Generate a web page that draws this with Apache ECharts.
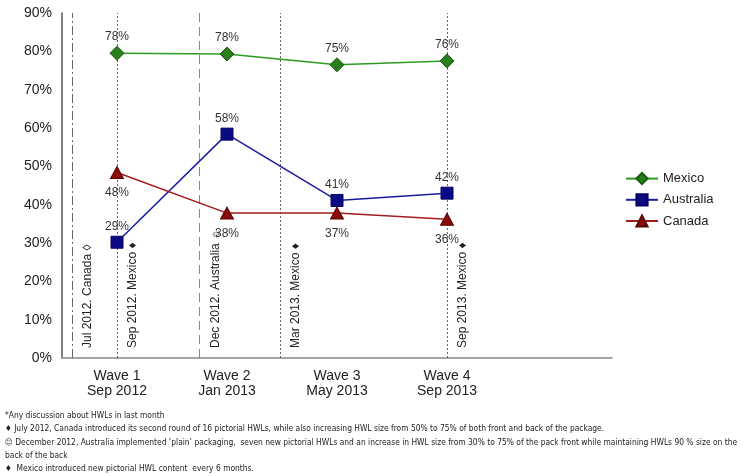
<!DOCTYPE html>
<html><head><meta charset="utf-8">
<script src="https://cdn.jsdelivr.net/npm/echarts@6/dist/echarts.min.js"></script>
<style>html,body{margin:0;padding:0;background:#fff}#c{width:753px;height:476px}</style>
</head><body><div id="c"></div>
<script>
const categories = ['Wave 1\nSep 2012', 'Wave 2\nJan 2013', 'Wave 3\nMay 2013', 'Wave 4\nSep 2013'];
const mexico = [79.5, 79.3, 76.5, 77.5];
const mexicoLabels = ['78%', '78%', '75%', '76%'];
const australia = [30.2, 58.4, 41.1, 43.0];
const australiaLabels = ['29%', '58%', '41%', '42%'];
const canada = [48.4, 37.8, 37.8, 36.2];
const canadaLabels = ['48%', '38%', '37%', '36%'];
const yTicks = [0, 10, 20, 30, 40, 50, 60, 70, 80, 90];
// event positions on the wave scale (wave 1 = 0.5, one wave = 1 unit)
const eventPos = [0.09, 0.5, 1.25, 1.98, 3.5];
const eventText = ['Jul 2012. Canada \u25CA', 'Sep 2012. Mexico \u2666', 'Dec 2012. Australia \u263C', 'Mar 2013. Mexico \u2666', 'Sep 2013. Mexico \u2666'];
const eventStyle = ['dashdot', 'dotted', 'dashed', 'dotted', 'dotted'];
const footnotes = [
  '*Any discussion about HWLs in last month',
  '\u2666 July 2012, Canada introduced its second round of 16 pictorial HWLs, while also increasing HWL size from 50% to 75% of both front and back of the package.',
  '\u263A December 2012, Australia implemented \u2018plain\u2019 packaging,  seven new pictorial HWLs and an increase in HWL size from 30% to 75% of the pack front while maintaining HWLs 90 % size on the',
  'back of the back',
  '\u2666  Mexico introduced new pictorial HWL content  every 6 months.'
];

const dashTypes = {dashdot: [9, 3, 2, 3], dotted: [2, 2], dashed: [9, 5]};
const toPts = arr => arr.map((v, i) => [i + 0.5, v]);

const chart = echarts.init(document.getElementById('c'), null, {renderer: 'canvas'});
const font = '"Liberation Sans", Arial, sans-serif';

const markData = eventPos.map((x, i) => ({
  xAxis: x,
  lineStyle: {color: eventStyle[i] === 'dashed' ? '#888' : '#666', width: 1, type: dashTypes[eventStyle[i]]},
  label: {formatter: eventText[i]}
}));

function lineSeries(name, vals, labels, color, mColor, border, symbol, size, pos, dist) {
  return {
    name, type: 'line', data: toPts(vals), symbol, symbolSize: size,
    lineStyle: {color, width: 1.5},
    itemStyle: {color: mColor, borderColor: border, borderWidth: 1},
    label: {show: true, position: pos, distance: dist, color: '#333', fontSize: 12, fontFamily: font,
      formatter: p => labels[p.dataIndex]},
    z: 3
  };
}

const series = [
  lineSeries('Mexico', mexico, mexicoLabels, '#2e9a22', '#2a7f1c', '#1b5a0f', 'diamond', [14, 14], 'top', 3),
  lineSeries('Australia', australia, australiaLabels, '#1c1ca0', '#0a0a85', '#050560', 'rect', [12, 12], 'top', 3),
  lineSeries('Canada', canada, canadaLabels, '#a31b1b', '#8b0a0a', '#5a0505', 'triangle', [13, 12], 'bottom', 8)
];
series[0].markLine = {
  silent: true, symbol: 'none', animation: false,
  label: {show: true, position: 'insideStartBottom', distance: [10, 10], color: '#222', fontSize: 12, fontFamily: font},
  data: markData, z: 1
};

chart.setOption({
  animation: false,
  backgroundColor: '#fff',
  grid: {left: 62, top: 13, width: 550, height: 345, containLabel: false},
  xAxis: {
    type: 'value', min: 0, max: 5, interval: 0.5,
    axisLine: {show: true, onZero: false, lineStyle: {color: '#888', width: 1.5}},
    axisTick: {show: false}, splitLine: {show: false},
    axisLabel: {
      color: '#222', fontSize: 14, fontFamily: font, lineHeight: 15, margin: 11,
      formatter: v => { const i = v - 0.5; return (Number.isInteger(i) && i >= 0 && i < categories.length) ? categories[i] : ''; }
    }
  },
  yAxis: {
    type: 'value', min: yTicks[0], max: yTicks[yTicks.length - 1], interval: 10,
    axisLine: {show: true, lineStyle: {color: '#555', width: 1.5}},
    axisTick: {show: false}, splitLine: {show: false},
    axisLabel: {color: '#222', fontSize: 14, fontFamily: font, margin: 10, formatter: v => v + '%'}
  },
  legend: {
    orient: 'vertical', left: 620, top: 167, itemWidth: 32, itemHeight: 14, itemGap: 8,
    textStyle: {color: '#222', fontSize: 13, fontFamily: font},
    data: ['Mexico', 'Australia', 'Canada']
  },
  graphic: [{
    type: 'text', left: 5, top: 409,
    style: {text: footnotes.join('\n'), fill: '#222', font: '8.4px "Liberation Sans Narrow", "DejaVu Sans Condensed", sans-serif', lineHeight: 13.4}
  }],
  series
});
</script></body></html>
